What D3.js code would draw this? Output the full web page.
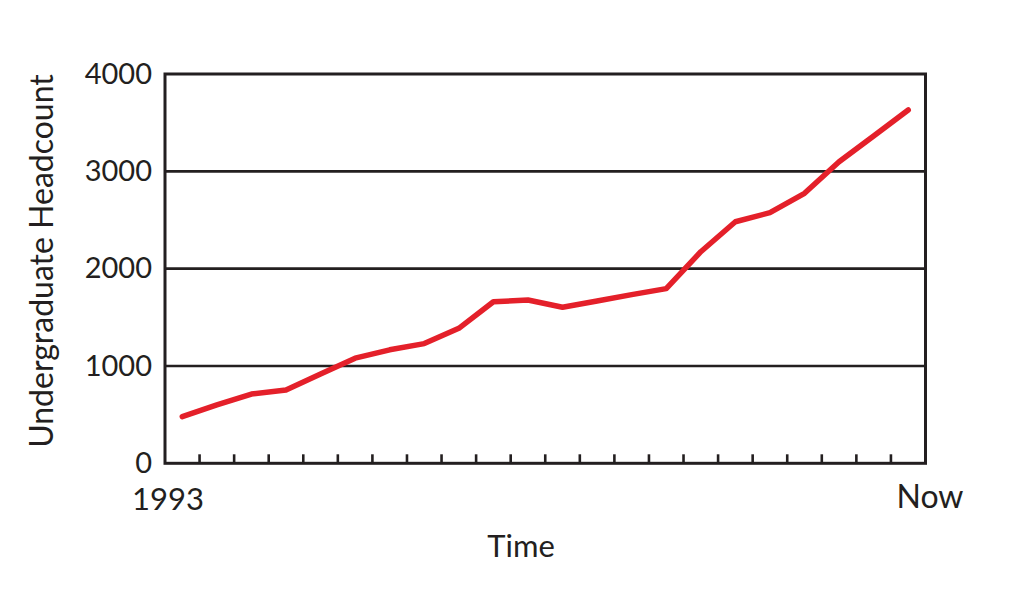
<!DOCTYPE html>
<html>
<head>
<meta charset="utf-8">
<script src="https://cdn.jsdelivr.net/npm/d3@7"></script>
<style>
  html, body { margin: 0; padding: 0; background: #fff; }
  svg { display: block; }
  text { font-family: Lato, "Open Sans", sans-serif; fill: #231f20; }
</style>
</head>
<body>
<svg id="chart" width="1024" height="601"></svg>
<script>
// ---- data ----
const periods = ["1993","1994","1995","1996","1997","1998","1999","2000","2001","2002","2003",
                 "2004","2005","2006","2007","2008","2009","2010","2011","2012","2013","Now"];
const headcount = [479, 600, 712, 753, 917, 1080, 1166, 1230, 1387, 1660, 1678,
                   1603, 1668, 1733, 1795, 2174, 2482, 2575, 2774, 3099, 3363, 3630];
const yTicks = [0, 1000, 2000, 3000, 4000];
const xEndLabels = ["1993", "Now"];
const yTitle = "Undergraduate Headcount";
const xTitle = "Time";

// ---- layout ----
const svg = d3.select("#chart");
const L = 165, R = 925.5, T = 74, B = 463.3;
const ink = "#231f20";

const x = d3.scaleBand().domain(periods).range([L, R]).paddingInner(0).paddingOuter(0);
const y = d3.scaleLinear().domain([0, 4000]).range([B, T]);

// gridlines
svg.append("g").selectAll("line")
  .data(yTicks.filter(d => d > 0 && d < 4000))
  .join("line")
  .attr("x1", L).attr("x2", R)
  .attr("y1", d => y(d)).attr("y2", d => y(d))
  .attr("stroke", ink).attr("stroke-width", 2.6);

// frame
svg.append("rect")
  .attr("x", L).attr("y", T).attr("width", R - L).attr("height", B - T)
  .attr("fill", "none").attr("stroke", ink).attr("stroke-width", 3);

// x ticks at band boundaries (inward)
svg.append("g").selectAll("line")
  .data(periods.slice(1))
  .join("line")
  .attr("x1", d => x(d)).attr("x2", d => x(d))
  .attr("y1", B).attr("y2", B - 9)
  .attr("stroke", ink).attr("stroke-width", 2.6);

// y axis labels
const yAxis = d3.axisLeft(y).tickValues(yTicks).tickSize(0).tickPadding(13).tickFormat(d3.format("d"));
const ya = svg.append("g").attr("transform", `translate(${L},0)`).call(yAxis);
ya.select(".domain").remove();
ya.selectAll("text").style("font-size", "29px").style("font-family", "Lato, sans-serif").attr("fill", ink);

// x end labels
svg.append("text").attr("x", 168).attr("y", 510).attr("text-anchor", "middle")
  .style("font-size", "31px").text(xEndLabels[0]);
svg.append("text").attr("x", 930).attr("y", 508).attr("text-anchor", "middle")
  .style("font-size", "32px").text(xEndLabels[1]);

// axis titles
svg.append("text").attr("x", 521).attr("y", 557).attr("text-anchor", "middle")
  .style("font-size", "31px").text(xTitle);
svg.append("text").attr("transform", "translate(53,261) rotate(-90)").attr("text-anchor", "middle")
  .style("font-size", "32px").text(yTitle);

// line
const line = d3.line()
  .x(d => x(d.p) + x.bandwidth() / 2)
  .y(d => y(d.v));
svg.append("path")
  .datum(periods.map((p, i) => ({ p, v: headcount[i] })))
  .attr("d", line)
  .attr("fill", "none")
  .attr("stroke", "#e4202a")
  .attr("stroke-width", 5.5)
  .attr("stroke-linejoin", "round")
  .attr("stroke-linecap", "round");
</script>
</body>
</html>
